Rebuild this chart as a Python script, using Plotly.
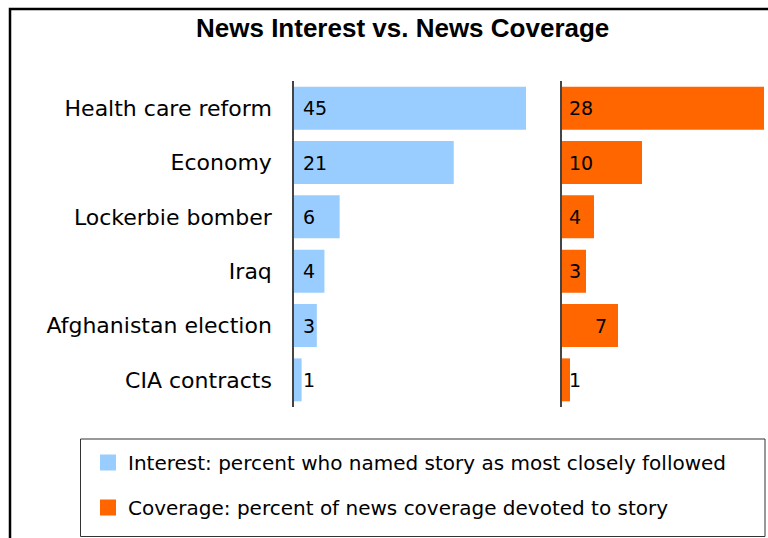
import plotly.graph_objects as go

categories = ["Health care reform", "Economy", "Lockerbie bomber", "Iraq",
              "Afghanistan election", "CIA contracts"]
interest = [45, 21, 6, 4, 3, 1]
coverage = [28, 10, 4, 3, 7, 1]
legend_names = ["Interest: percent who named story as most closely followed",
                "Coverage: percent of news coverage devoted to story"]
title_text = "News Interest vs. News Coverage"

BLUE = "#99CCFF"
ORANGE = "#FF6600"
W, H = 768, 538

def px(x):
    return x / W

def py(y):
    return (H - y) / H

fig = go.Figure()
fig.add_trace(go.Bar(y=categories, x=interest, orientation="h", marker_color=BLUE,
                     marker_line_width=0, xaxis="x", yaxis="y", showlegend=False,
                     hoverinfo="x+y"))
fig.add_trace(go.Bar(y=categories, x=coverage, orientation="h", marker_color=ORANGE,
                     marker_line_width=0, xaxis="x2", yaxis="y2", showlegend=False,
                     hoverinfo="x+y"))
# legend entries
for name, col, grp in [(legend_names[0], BLUE, "a"), (legend_names[1], ORANGE, "b")]:
    fig.add_trace(go.Scatter(x=[None], y=[None], mode="markers", name=name,
                             legendgroup=grp,
                             marker=dict(symbol="square", size=17, color=col),
                             xaxis="x", yaxis="y"))

annotations = []
label_font = dict(family="DejaVu Sans", size=19, color="black")
for cat, v in zip(categories, interest):
    annotations.append(dict(x=0, y=cat, xref="x", yref="y", text=str(v),
                            xanchor="left", xshift=7, showarrow=False, font=label_font))
for cat, v in zip(categories, coverage):
    if v == 7:
        annotations.append(dict(x=v, y=cat, xref="x2", yref="y2", text=str(v),
                                xanchor="right", xshift=-9, showarrow=False, font=label_font))
    else:
        annotations.append(dict(x=0, y=cat, xref="x2", yref="y2", text=str(v),
                                xanchor="left", xshift=5, showarrow=False, font=label_font))
annotations.append(dict(x=px(402), y=py(28), xref="paper", yref="paper", text="<b>" + title_text + "</b>",
                        showarrow=False, xanchor="center", yanchor="middle",
                        font=dict(family="Liberation Sans", size=26, color="black")))

shapes = [
    dict(type="rect", xref="paper", yref="paper", x0=px(10), x1=px(820), y0=py(9), y1=py(600),
         line=dict(color="black", width=2.5), fillcolor="rgba(0,0,0,0)", layer="below"),
    dict(type="rect", xref="paper", yref="paper", x0=px(80.5), x1=px(765), y0=py(439), y1=py(536.5),
         line=dict(color="#333333", width=1), fillcolor="rgba(0,0,0,0)", layer="below"),
]

ydom = [py(407), py(81)]
fig.update_layout(
    width=W, height=H,
    margin=dict(l=0, r=0, t=0, b=0),
    paper_bgcolor="white", plot_bgcolor="white",
    bargap=0.21,
    xaxis=dict(domain=[px(294), px(526)], range=[0, 30.5], showgrid=False, zeroline=False,
               showticklabels=False, showline=False, fixedrange=True),
    xaxis2=dict(domain=[px(562), px(764)], range=[0, 25.25], showgrid=False, zeroline=False,
                showticklabels=False, showline=False, fixedrange=True, anchor="y2"),
    yaxis=dict(domain=ydom, categoryorder="array", categoryarray=categories, autorange="reversed",
               showgrid=False, zeroline=False, showline=True, linecolor="#444444", linewidth=1.5,
               ticks="", ticklabelstandoff=16,
               tickfont=dict(family="DejaVu Sans", size=22, color="black"), anchor="x"),
    yaxis2=dict(domain=ydom, categoryorder="array", categoryarray=categories, autorange="reversed",
                showgrid=False, zeroline=False, showline=True, linecolor="#444444", linewidth=1.5,
                showticklabels=False, ticks="", anchor="x2"),
    showlegend=True,
    legend=dict(x=px(88), y=py(443), xanchor="left", yanchor="top",
                bgcolor="rgba(0,0,0,0)", borderwidth=0, traceorder="grouped",
                tracegroupgap=16,
                font=dict(family="DejaVu Sans", size=20, color="black")),
    annotations=annotations,
    shapes=shapes,
)

fig.write_html("out.html", config={"displayModeBar": False},
               post_script="document.body.style.margin='0';document.body.style.padding='0';")
